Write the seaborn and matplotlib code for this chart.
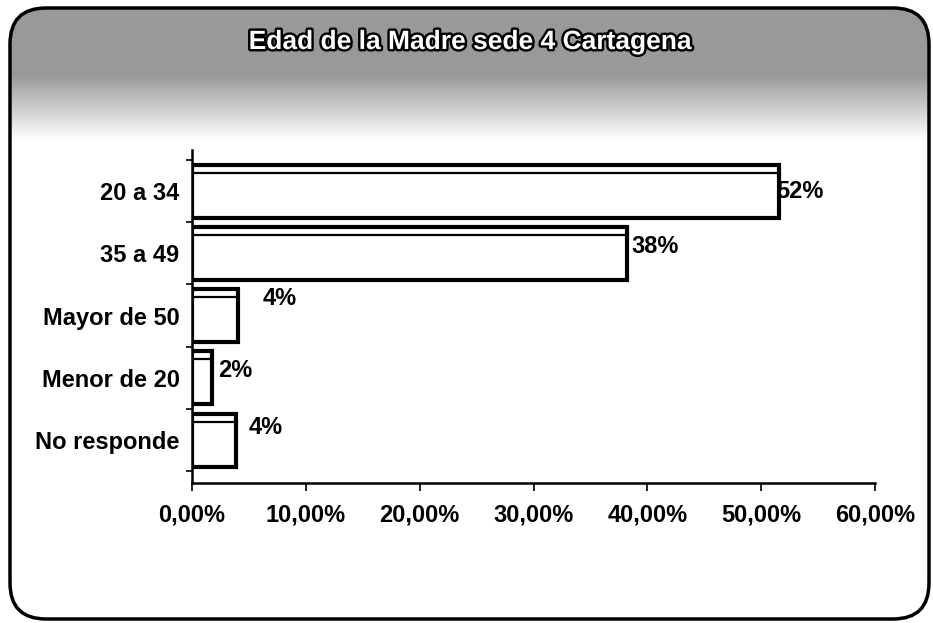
import numpy as np
import pandas as pd
import matplotlib
matplotlib.use("Agg")
import matplotlib.pyplot as plt
import matplotlib.patheffects as pe
from matplotlib.patches import FancyBboxPatch
from matplotlib.ticker import FuncFormatter, FixedLocator
import seaborn as sns

# ---- data ----
categories = ["20 a 34", "35 a 49", "Mayor de 50", "Menor de 20", "No responde"]
values = [51.6, 38.2, 4.0, 1.8, 3.9]          # percent
labels = ["52%", "38%", "4%", "2%", "4%"]
x_ticks = [0, 10, 20, 30, 40, 50, 60]
title = "Edad de la Madre sede 4 Cartagena"

# label offsets in points (style)
label_offsets = [(-2, 0), (3, 5), (18, 12), (4, 5), (9, 9)]

sns.set_theme(style="white")
plt.rcParams["font.family"] = ["Liberation Sans", "DejaVu Sans"]

W, H = 933, 623
fig = plt.figure(figsize=(W / 100, H / 100), dpi=100)
fig.patch.set_facecolor("white")

# ---- header gradient (decorative) ----
bg = fig.add_axes([0, 0, 1, 1], zorder=0)
bg.set_xlim(0, W)
bg.set_ylim(H, 0)
bg.axis("off")
rows = np.arange(H)
shade = np.ones(H)
top_end, fade_end = 75, 140
shade[rows < top_end] = 0.6
m = (rows >= top_end) & (rows < fade_end)
shade[m] = 0.6 + (1 - 0.6) * (rows[m] - top_end) / (fade_end - top_end)
img = np.repeat(shade[:, None], 10, axis=1)
im = bg.imshow(img, cmap="gray", vmin=0, vmax=1, extent=[0, W, H, 0], aspect="auto")
box = FancyBboxPatch((10, 8), W - 14, H - 12, boxstyle="round,pad=0,rounding_size=36",
                     facecolor="none", edgecolor="black", linewidth=2.5,
                     transform=bg.transData)
bg.add_patch(box)
im.set_clip_path(box)

fig.text(470 / W, 1 - 42 / H, title, ha="center", va="center", fontsize=19,
         color="white", fontweight="bold",
         path_effects=[pe.withStroke(linewidth=3.5, foreground="black")], zorder=5)

# ---- bar chart ----
ax = fig.add_axes([192 / W, 1 - 483 / H, (875 - 192) / W, (483 - 150) / H], zorder=2)
ax.patch.set_alpha(0)
df = pd.DataFrame({"cat": categories, "val": values})
sns.barplot(data=df, x="val", y="cat", orient="h", color="white", saturation=1,
            edgecolor="black", linewidth=3, width=0.85, ax=ax)

# inner top line of each bar (3D effect)
for i, v in enumerate(values):
    ax.hlines(i - 0.85 / 2 + 0.13, 0, v, color="black", linewidth=1.6, zorder=3)

for i, (v, lab) in enumerate(zip(values, labels)):
    ax.annotate(lab, xy=(v, i), xytext=label_offsets[i], textcoords="offset points",
                ha="left", va="center", fontsize=17, fontweight="bold", color="black")

ax.set_xlim(0, 60)
ax.set_ylim(4.69, -0.66)
ax.xaxis.set_major_locator(FixedLocator(x_ticks))
ax.xaxis.set_major_formatter(FuncFormatter(lambda v, p: f"{v:.2f}%".replace(".", ",")))
ax.set_xlabel("")
ax.set_ylabel("")
for s in ["top", "right"]:
    ax.spines[s].set_visible(False)
for s in ["left", "bottom"]:
    ax.spines[s].set_color("black")
    ax.spines[s].set_linewidth(1.8)
ax.tick_params(axis="x", direction="out", length=6, width=1.2, color="black",
               labelsize=17, pad=9, bottom=True)
ax.tick_params(axis="y", length=0, labelsize=17, pad=9, left=True)
ax.yaxis.set_minor_locator(FixedLocator([i - 0.5 for i in range(len(categories) + 1)]))
ax.tick_params(axis="y", which="minor", length=4, width=1.2, color="black", left=True)
for t in ax.get_xticklabels() + ax.get_yticklabels():
    t.set_color("black")
    t.set_fontweight("bold")

fig.savefig("out.png", dpi=100)
